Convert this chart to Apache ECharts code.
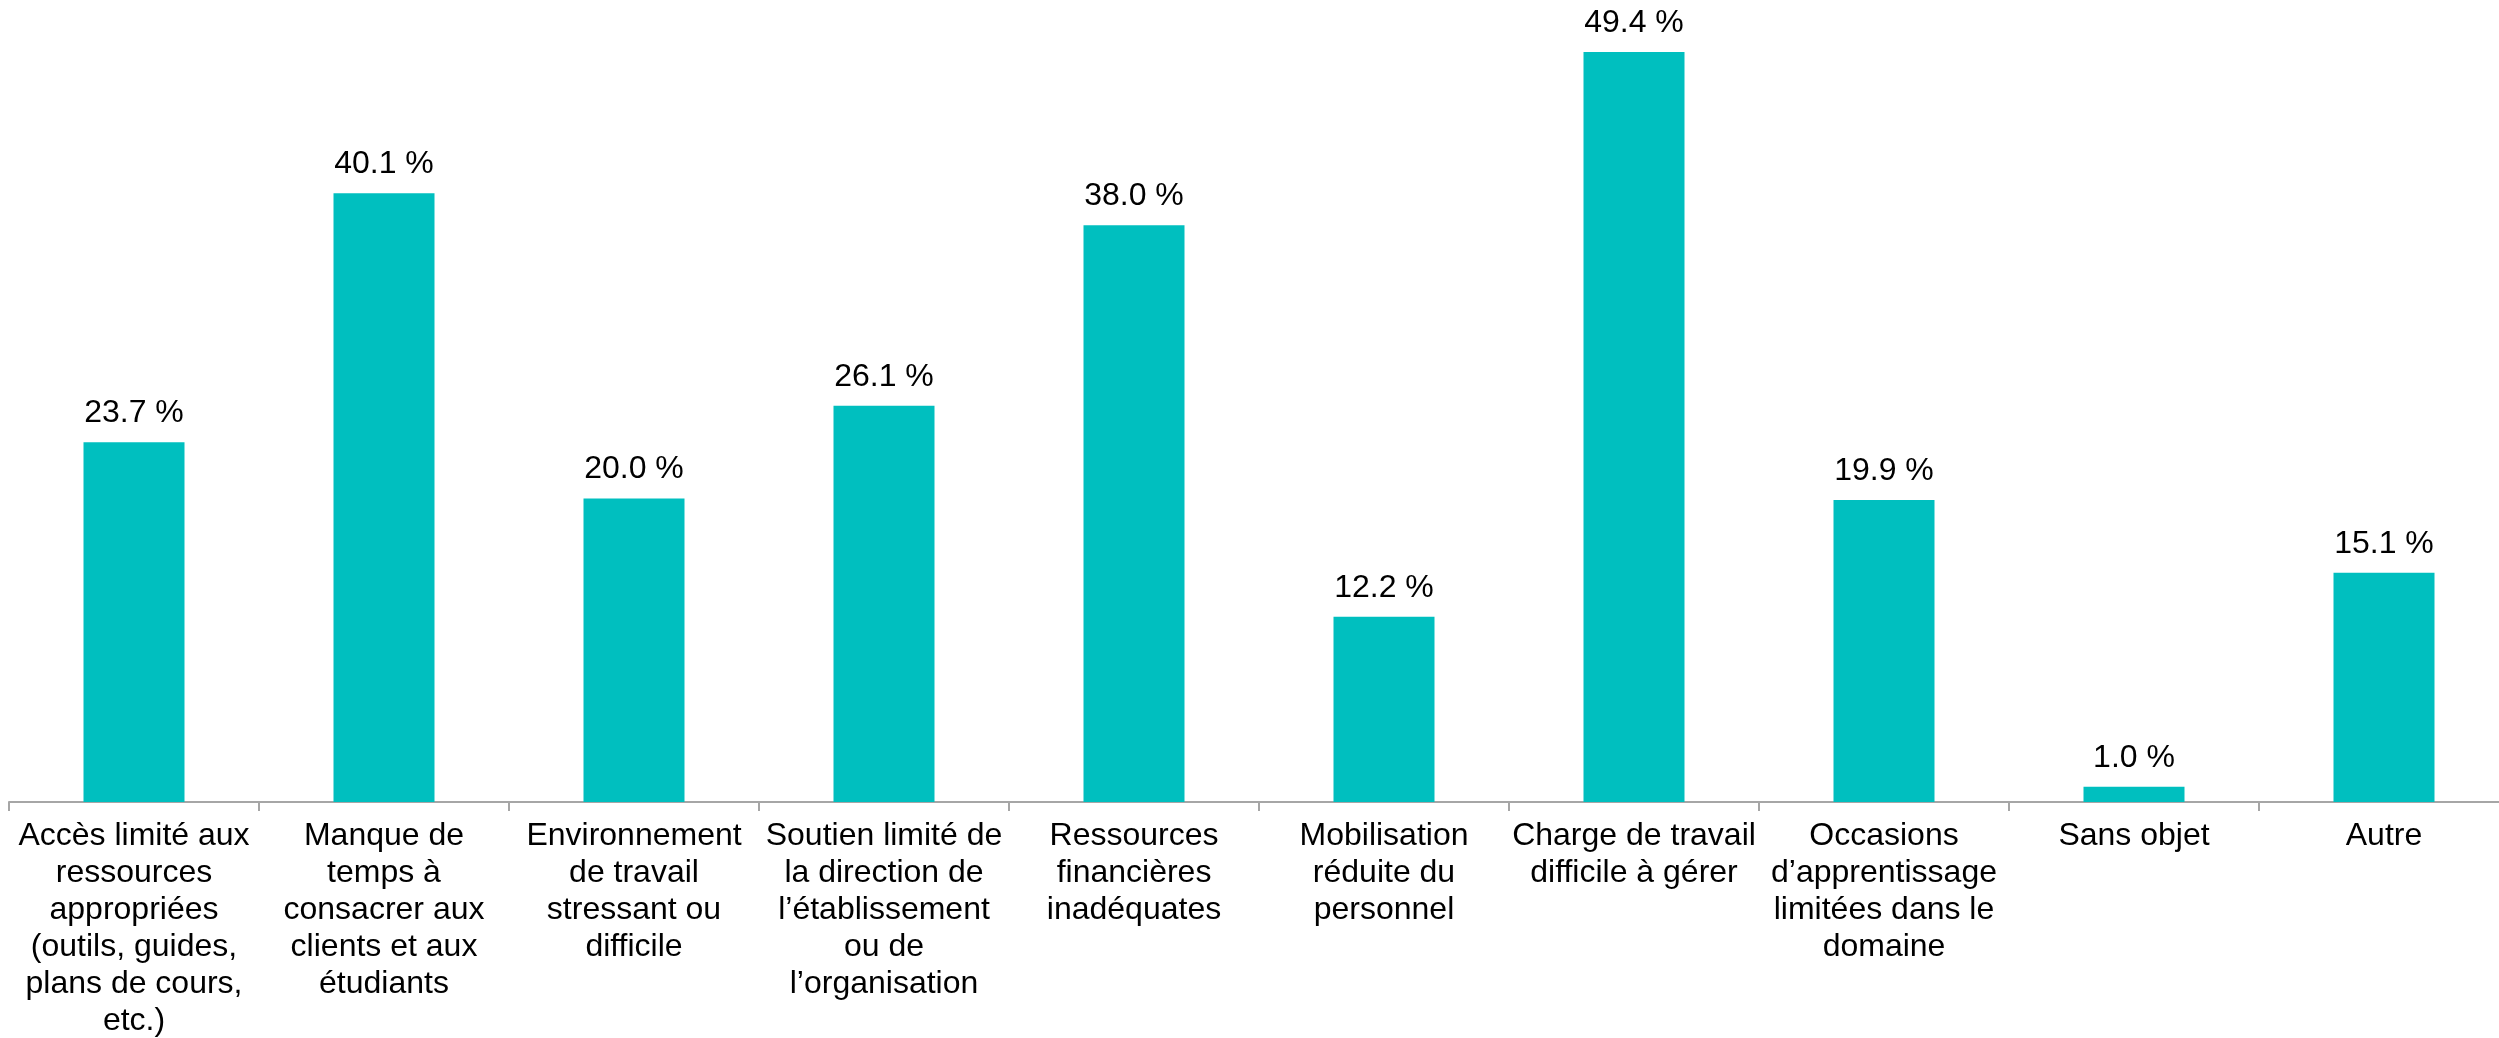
<!DOCTYPE html>
<html>
<head>
<meta charset="utf-8">
<script src="https://cdn.jsdelivr.net/npm/echarts@6/dist/echarts.min.js"></script>
<style>
  html, body { margin: 0; padding: 0; background: #ffffff; }
  #chart { width: 2499px; height: 1038px; }
</style>
</head>
<body>
<div id="chart"></div>
<script>
// Obstacles reported (share of respondents, %)
const categories = [
  "Accès limité aux\nressources\nappropriées\n(outils, guides,\nplans de cours,\netc.)",
  "Manque de\ntemps à\nconsacrer aux\nclients et aux\nétudiants",
  "Environnement\nde travail\nstressant ou\ndifficile",
  "Soutien limité de\nla direction de\nl’établissement\nou de\nl’organisation",
  "Ressources\nfinancières\ninadéquates",
  "Mobilisation\nréduite du\npersonnel",
  "Charge de travail\ndifficile à gérer",
  "Occasions\nd’apprentissage\nlimitées dans le\ndomaine",
  "Sans objet",
  "Autre"
];
const percentages = [23.7, 40.1, 20.0, 26.1, 38.0, 12.2, 49.4, 19.9, 1.0, 15.1];

const FONT = '"Liberation Sans", Arial, sans-serif';

const chart = echarts.init(document.getElementById('chart'), null, { renderer: 'canvas' });
chart.setOption({
  animation: false,
  backgroundColor: '#ffffff',
  grid: {
    left: 9, width: 2500, top: 43, bottom: 236,
    containLabel: false,
    outerBoundsMode: 'none'
  },
  xAxis: {
    type: 'category',
    data: categories,
    axisLine: { show: true, lineStyle: { color: '#a6a6a6', width: 2 } },
    axisTick: { show: true, length: 9, lineStyle: { color: '#a6a6a6', width: 2 } },
    axisLabel: {
      interval: 0,
      margin: 16,
      color: '#000000',
      fontFamily: FONT,
      fontSize: 32,
      lineHeight: 37,
      align: 'center'
    }
  },
  yAxis: {
    type: 'value',
    min: 0,
    max: 50,
    show: false,
    splitLine: { show: false }
  },
  series: [{
    type: 'bar',
    data: percentages,
    barWidth: 101,
    itemStyle: { color: '#00BFBF' },
    label: {
      show: true,
      position: 'top',
      distance: 13,
      color: '#000000',
      fontFamily: FONT,
      fontSize: 32,
      formatter: p => p.value.toFixed(1) + ' %'
    }
  }]
});
</script>
</body>
</html>
